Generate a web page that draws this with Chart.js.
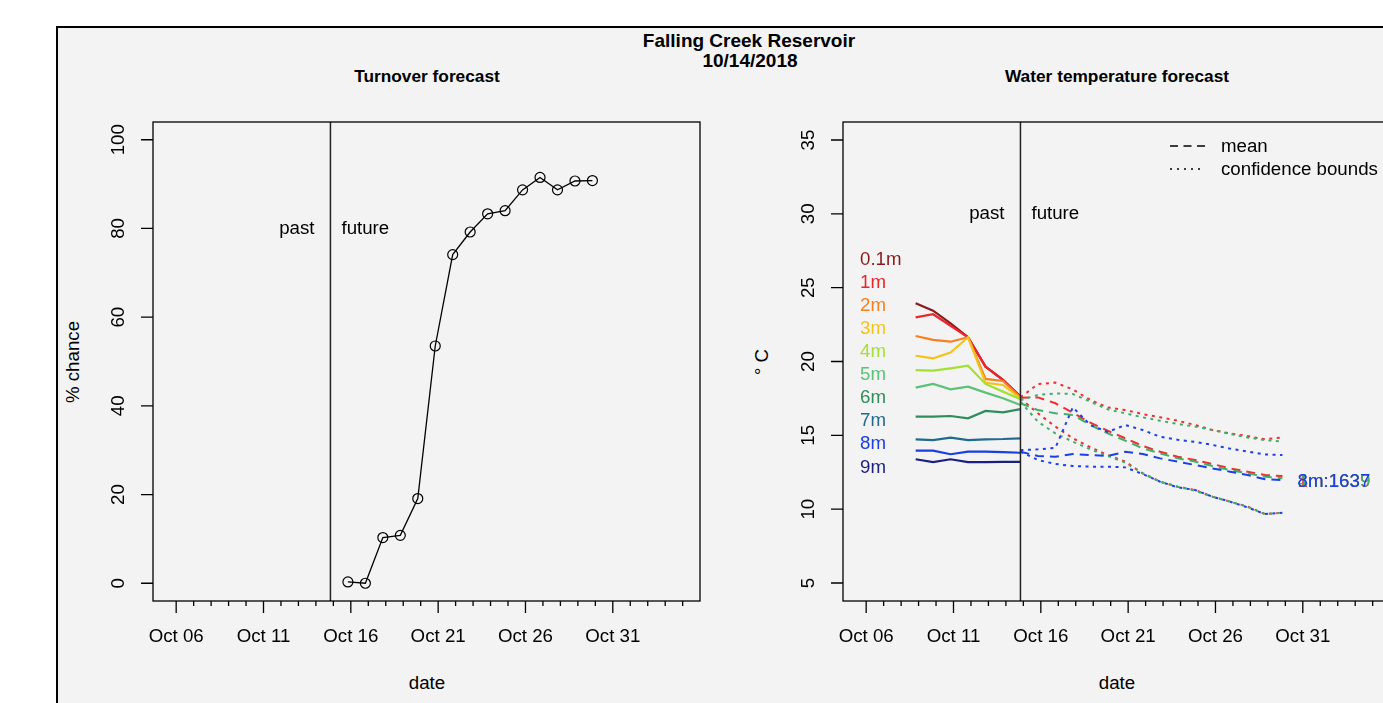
<!DOCTYPE html>
<html lang="en">
<head>
<meta charset="UTF-8" />
<title>Falling Creek Reservoir - 10/14/2018</title>
<script src="https://cdn.jsdelivr.net/npm/chart.js"></script>
<style>
    html, body { margin: 0; padding: 0; background: #fff; overflow: hidden; width: 1383px; height: 703px; }
    body { font-family: 'Liberation Sans', Arial, sans-serif; position: relative; }
    .frame { position: absolute; left: 56px; top: 26px; width: 1400px; height: 800px; border: 2px solid #000; background: #f3f3f3; }
    .lbl { position: absolute; transform: translate(-50%, -50%); white-space: nowrap; color: #000; font-size: 18.7px; }
    .main { font-weight: bold; font-size: 19px; }
    .sub { font-weight: bold; font-size: 17.3px; }
    .rot { transform: translate(-50%, -50%) rotate(-90deg); }
    canvas { position: absolute; top: 0; }
</style>
<script>
    // turnover forecast
    const turnoverDates = ['2018-10-16', '2018-10-17', '2018-10-18', '2018-10-19', '2018-10-20', '2018-10-21', '2018-10-22', '2018-10-23',
        '2018-10-24', '2018-10-25', '2018-10-26', '2018-10-27', '2018-10-28', '2018-10-29', '2018-10-30'];
    const turnoverChance = [0.3, 0, 10.3, 10.8, 19.1, 53.5, 74.1, 79.2, 83.3, 84.0, 88.7, 91.5, 88.7, 90.7, 90.8];

    // observed water temperature (past)
    const pastDates = ['2018-10-09', '2018-10-10', '2018-10-11', '2018-10-12', '2018-10-13', '2018-10-14', '2018-10-15'];
    const depthLabels = ['0.1m', '1m', '2m', '3m', '4m', '5m', '6m', '7m', '8m', '9m'];
    const depthColors = ['#8b1a1a', '#e8262b', '#f4801f', '#f2c41b', '#a3e034', '#5cc277', '#2f8d5b', '#1f6b8a', '#1b3ee0', '#1b1f80'];
    const temp0_1m = [23.94, 23.44, 22.59, 21.64, 19.65, 18.75, 17.62];
    const temp1m = [22.99, 23.20, 22.42, 21.64, 19.65, 18.75, 17.62];
    const temp2m = [21.73, 21.46, 21.34, 21.64, 18.82, 18.68, 17.58];
    const temp3m = [20.39, 20.22, 20.60, 21.64, 18.56, 18.41, 17.51];
    const temp4m = [19.42, 19.38, 19.54, 19.72, 18.48, 17.96, 17.44];
    const temp5m = [18.23, 18.48, 18.12, 18.29, 17.89, 17.51, 17.05];
    const temp6m = [16.26, 16.26, 16.31, 16.15, 16.65, 16.56, 16.78];
    const temp7m = [14.73, 14.68, 14.84, 14.68, 14.73, 14.75, 14.80];
    const temp8m = [13.96, 13.96, 13.72, 13.89, 13.89, 13.86, 13.82];
    const temp9m = [13.38, 13.18, 13.38, 13.18, 13.18, 13.20, 13.20];
    const pastTemps = [temp0_1m, temp1m, temp2m, temp3m, temp4m, temp5m, temp6m, temp7m, temp8m, temp9m];

    // forecast (mean and confidence bounds)
    const forecastDates = ['2018-10-15', '2018-10-16', '2018-10-17', '2018-10-18', '2018-10-19', '2018-10-20', '2018-10-21', '2018-10-22',
        '2018-10-23', '2018-10-24', '2018-10-25', '2018-10-26', '2018-10-27', '2018-10-28', '2018-10-29', '2018-10-30'];
    const mean1m = [17.55, 17.57, 17.17, 16.53, 15.86, 15.31, 14.80, 14.28, 13.89, 13.55, 13.33, 13.06, 12.76, 12.54, 12.31, 12.24];
    const upper1m = [17.57, 18.47, 18.57, 18.11, 17.39, 16.89, 16.71, 16.44, 16.22, 15.99, 15.70, 15.36, 15.13, 14.95, 14.73, 14.86];
    const lower1m = [17.50, 16.49, 15.59, 14.80, 14.19, 13.67, 13.22, 12.43, 11.86, 11.52, 11.30, 10.84, 10.51, 10.17, 9.67, 9.76];
    const mean4m = [17.17, 16.71, 16.49, 16.38, 15.70, 15.13, 14.64, 14.12, 13.78, 13.44, 13.22, 12.92, 12.65, 12.43, 12.20, 12.09];
    const upper4m = [17.39, 17.73, 17.84, 17.80, 17.28, 16.76, 16.49, 16.22, 15.99, 15.77, 15.59, 15.36, 15.09, 14.86, 14.68, 14.57];
    const lower4m = [17.28, 15.92, 15.13, 14.57, 14.05, 13.60, 13.15, 12.43, 11.86, 11.52, 11.25, 10.84, 10.51, 10.17, 9.67, 9.76];
    const mean8m = [13.89, 13.60, 13.55, 13.73, 13.67, 13.60, 13.89, 13.73, 13.44, 13.22, 12.99, 12.76, 12.54, 12.31, 12.02, 11.97];
    const upper8m = [14.00, 14.05, 14.15, 16.90, 15.70, 15.23, 15.70, 15.36, 14.90, 14.70, 14.55, 14.35, 14.10, 13.90, 13.70, 13.67];
    const lower8m = [13.89, 13.33, 13.06, 12.92, 12.88, 12.88, 12.83, 12.38, 11.86, 11.48, 11.30, 10.84, 10.51, 10.12, 9.67, 9.76];
    const forecastLabels = ['1m:1639', '4m:1639', '8m:1637'];
    const forecastColors = ['#ee2f2f', '#3caf6a', '#1d40e6'];

    const nowDate = '2018-10-15';

    // axis ticks (day of October)
    const xTickDays = [6, 11, 16, 21, 26, 31];
    const xTickLabels = ['Oct 06', 'Oct 11', 'Oct 16', 'Oct 21', 'Oct 26', 'Oct 31'];
    const xMinorDays = Array.from({ length: 30 }, (_, i) => 6 + i);
    const yTicksChance = [0, 20, 40, 60, 80, 100];
    const yTicksTemp = [5, 10, 15, 20, 25, 30, 35];

    const FONT = '18.7px "Liberation Sans", Arial, sans-serif';

    // dates are midnight UTC, axis shows local time (UTC-4)
    function toX(d) {
        return (Date.parse(d + 'T00:00:00Z') - Date.UTC(2018, 9, 0)) / 864e5 - 4 / 24;
    }
    function pts(dates, vals) {
        return dates.map((d, i) => ({ x: toX(d), y: vals[i] }));
    }

    // R-like axes, box, now line and past/future text
    const rAxes = {
        id: 'rAxes',
        afterDatasetsDraw(chart, args, opts) {
            const { ctx, chartArea: a, scales: { x, y } } = chart;
            ctx.save();
            ctx.setLineDash([]);
            const nx = x.getPixelForValue(toX(nowDate));
            ctx.strokeStyle = '#222';
            ctx.lineWidth = 1.5;
            ctx.beginPath(); ctx.moveTo(nx, a.top); ctx.lineTo(nx, a.bottom); ctx.stroke();

            ctx.strokeStyle = '#000';
            ctx.lineWidth = 1.3;
            ctx.strokeRect(a.left, a.top, a.right - a.left, a.bottom - a.top);
            ctx.beginPath();
            xMinorDays.forEach(d => {
                const px = x.getPixelForValue(d);
                ctx.moveTo(px, a.bottom);
                ctx.lineTo(px, a.bottom + (xTickDays.includes(d) ? 12 : 5));
            });
            opts.yTicks.forEach(v => {
                const py = y.getPixelForValue(v);
                ctx.moveTo(a.left - 12, py);
                ctx.lineTo(a.left, py);
            });
            ctx.stroke();

            ctx.fillStyle = '#000';
            ctx.font = FONT;
            ctx.textAlign = 'center';
            ctx.textBaseline = 'middle';
            xTickDays.forEach((d, i) => ctx.fillText(xTickLabels[i], x.getPixelForValue(d), a.bottom + 36));
            opts.yTicks.forEach(v => {
                ctx.save();
                ctx.translate(a.left - 34, y.getPixelForValue(v));
                ctx.rotate(-Math.PI / 2);
                ctx.fillText(String(v), 0, 0);
                ctx.restore();
            });
            const py = y.getPixelForValue(opts.textY);
            ctx.textAlign = 'right';
            ctx.fillText('past', nx - 16, py);
            ctx.textAlign = 'left';
            ctx.fillText('future', nx + 11, py);
            ctx.restore();
        }
    };

    // depth labels, legend and end labels for the temperature panel
    const tempNotes = {
        id: 'tempNotes',
        afterDatasetsDraw(chart) {
            const { ctx, chartArea: a, scales: { x, y } } = chart;
            ctx.save();
            ctx.font = FONT;
            ctx.textBaseline = 'middle';
            ctx.textAlign = 'left';
            depthLabels.forEach((t, i) => {
                ctx.fillStyle = depthColors[i];
                ctx.fillText(t, a.left + 17, y.getPixelForValue(26.87 - 1.56 * i));
            });
            forecastLabels.forEach((t, i) => {
                ctx.fillStyle = forecastColors[i];
                ctx.fillText(t, x.getPixelForValue(30.7), y.getPixelForValue(11.85));
            });
            // legend
            ctx.strokeStyle = '#000';
            ctx.lineWidth = 1.3;
            ctx.setLineDash([8, 5.5]);
            ctx.beginPath(); ctx.moveTo(a.left + 327, a.top + 24); ctx.lineTo(a.left + 362, a.top + 24); ctx.stroke();
            ctx.setLineDash([2, 5]);
            ctx.beginPath(); ctx.moveTo(a.left + 327, a.top + 47); ctx.lineTo(a.left + 362, a.top + 47); ctx.stroke();
            ctx.fillStyle = '#000';
            ctx.fillText('mean', a.left + 378, a.top + 25);
            ctx.fillText('confidence bounds', a.left + 378, a.top + 48);
            ctx.restore();
        }
    };

    window.onload = function() {
        const xRange = { type: 'linear', min: 4.673, max: 35.993, display: false };

        new Chart(document.getElementById('turnoverChart'), {
            type: 'line',
            data: {
                datasets: [{
                    data: pts(turnoverDates, turnoverChance),
                    borderColor: '#000',
                    borderWidth: 1.3,
                    pointRadius: 5,
                    pointBorderWidth: 1.2,
                    pointBorderColor: '#000',
                    pointBackgroundColor: 'rgba(0,0,0,0)',
                    tension: 0
                }]
            },
            options: {
                responsive: false,
                animation: false,
                layout: { padding: { left: 153, top: 122, right: 20, bottom: 102 } },
                scales: { x: xRange, y: { min: -4, max: 104, display: false } },
                plugins: {
                    legend: { display: false },
                    tooltip: { enabled: false },
                    rAxes: { yTicks: yTicksChance, textY: 80 }
                }
            },
            plugins: [rAxes]
        });

        const datasets = [];
        pastTemps.forEach((vals, i) => datasets.push({
            data: pts(pastDates, vals), borderColor: depthColors[i], borderWidth: 2.2
        }));
        [[mean1m, upper1m, lower1m], [mean4m, upper4m, lower4m], [mean8m, upper8m, lower8m]].forEach((set, i) => {
            datasets.push({ data: pts(forecastDates, set[1]), borderColor: forecastColors[i], borderWidth: 2, borderDash: [3, 4.5] });
            datasets.push({ data: pts(forecastDates, set[2]), borderColor: forecastColors[i], borderWidth: 2, borderDash: [3, 4.5] });
            datasets.push({ data: pts(forecastDates, set[0]), borderColor: forecastColors[i], borderWidth: 2, borderDash: [9, 6] });
        });
        datasets.forEach((d, i) => { d.order = -i; d.pointRadius = 0; d.tension = 0; });

        new Chart(document.getElementById('tempChart'), {
            type: 'line',
            data: { datasets: datasets },
            options: {
                responsive: false,
                animation: false,
                layout: { padding: { left: 123, top: 122, right: 10, bottom: 102 } },
                scales: { x: xRange, y: { min: 3.78, max: 36.22, display: false } },
                plugins: {
                    legend: { display: false },
                    tooltip: { enabled: false },
                    rAxes: { yTicks: yTicksTemp, textY: 30 }
                }
            },
            plugins: [rAxes, tempNotes]
        });
    };
</script>
</head>
<body>
<div class="frame"></div>
<div class="lbl main" style="left:749px; top:41px;">Falling Creek Reservoir</div>
<div class="lbl main" style="left:750px; top:61px;">10/14/2018</div>
<div class="lbl sub" style="left:427px; top:76px;">Turnover forecast</div>
<div class="lbl sub" style="left:1117px; top:76px;">Water temperature forecast</div>
<div class="lbl rot" style="left:73px; top:362px;">% chance</div>
<div class="lbl" style="left:427px; top:683px;">date</div>
<div class="lbl rot" style="left:762px; top:362px;">° C</div>
<div class="lbl" style="left:1117px; top:683px;">date</div>
<canvas id="turnoverChart" width="720" height="703" style="left:0;"></canvas>
<canvas id="tempChart" width="680" height="703" style="left:720px;"></canvas>
</body>
</html>
